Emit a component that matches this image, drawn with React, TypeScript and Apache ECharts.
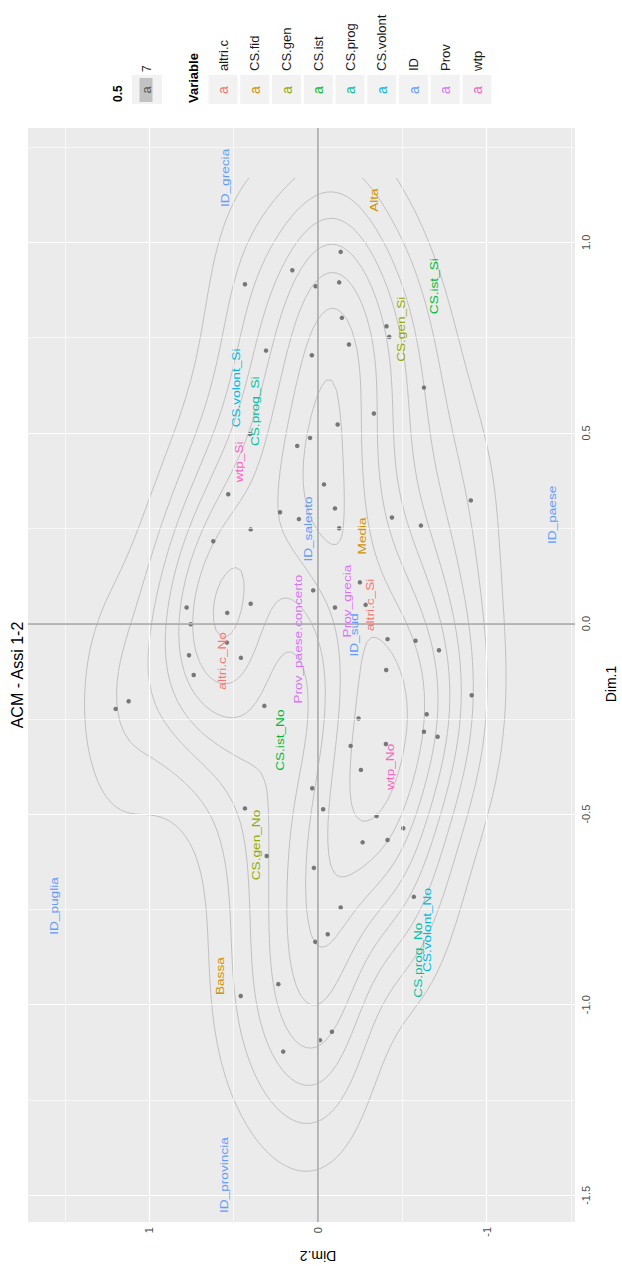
import React, { useEffect, useRef } from "react";
import * as echarts from "echarts";

// ---------- data ----------
const varNames = ["altri.c", "CS.fid", "CS.gen", "CS.ist", "CS.prog", "CS.volont", "ID", "Prov", "wtp"];
const varColors = ["#F8766D", "#D39200", "#93AA00", "#00BA38", "#00C19F", "#00B9E3", "#619CFF", "#DB72FB", "#FF61C3"];

const labelText = [
  "altri.c_Si", "altri.c_No",
  "Alta", "Media", "Bassa",
  "CS.gen_Si", "CS.gen_No",
  "CS.ist_Si", "CS.ist_No",
  "CS.prog_Si", "CS.prog_No",
  "CS.volont_Si", "CS.volont_No",
  "ID_grecia", "ID_salento", "ID_sud", "ID_puglia", "ID_provincia", "ID_paese",
  "Prov_grecia", "Prov_paese.concerto",
  "wtp_Si", "wtp_No",
];
const labelVar = [0, 0, 1, 1, 1, 2, 2, 3, 3, 4, 4, 5, 5, 6, 6, 6, 6, 6, 6, 7, 7, 8, 8];
const labelDim1 = [
  0.049, -0.098,
  1.111, 0.230, -0.925,
  0.772, -0.581,
  0.885, -0.306,
  0.557, -0.883,
  0.618, -0.804,
  1.169, 0.248, -0.030, -0.741, -1.447, 0.285,
  0.059, -0.041,
  0.424, -0.376,
];
const labelDim2 = [
  -0.314, 0.563,
  -0.338, -0.267, 0.575,
  -0.498, 0.362,
  -0.694, 0.219,
  0.368, -0.599,
  0.480, -0.652,
  0.546, 0.053, -0.219, 1.560, 0.552, -1.394,
  -0.178, 0.113,
  0.463, -0.433,
];

const pointDim1 = [
  0.975, 0.927, 0.890, 0.885, 0.895, 0.802, 0.780, 0.752, 0.732, 0.716,
  0.704, 0.619, 0.551, 0.522, 0.487, 0.466, 0.497, 0.365, 0.339, 0.302,
  0.292, 0.274, 0.278, 0.257, 0.247, 0.250, 0.216, 0.108, 0.087, 0.052,
  0.042, 0.049, 0.028, -0.050, -0.041, -0.045, -0.090, -0.070, -0.122, -0.216,
  -0.238, -0.249, -0.284, -0.297, -0.321, -0.316, -0.384, -0.432, -0.487, -0.505,
  -0.537, -0.574, -0.568, -0.641, -0.717, -0.745, -0.815, -0.835, -1.071, -1.093,
  -0.485, -0.610, -0.946, -0.977, -1.123, 0.042, -0.002, -0.083, -0.135, -0.204,
  -0.224, 0.323, -0.188,
];
const pointDim2 = [
  -0.135, 0.152, 0.433, 0.014, -0.126, -0.142, -0.407, -0.423, -0.184, 0.308,
  0.036, -0.629, -0.332, -0.117, 0.047, 0.123, 0.403, -0.036, 0.532, -0.101,
  0.225, 0.113, -0.439, -0.611, 0.399, -0.126, 0.621, -0.249, 0.028, 0.399,
  -0.101, -0.283, 0.538, 0.540, -0.413, -0.579, 0.457, -0.718, -0.405, 0.318,
  -0.645, -0.241, -0.629, -0.710, -0.194, -0.403, -0.255, 0.034, -0.031, -0.348,
  -0.506, -0.265, -0.413, 0.024, -0.569, -0.135, -0.058, 0.016, -0.083, -0.012,
  0.433, 0.304, 0.235, 0.458, 0.206, 0.779, 0.755, 0.765, 0.737, 1.123,
  1.200, -0.907, -0.912,
];

const dim1MajorTicks = [-1.5, -1, -0.5, 0, 0.5, 1];
const dim1MinorTicks = [-1.25, -0.75, -0.25, 0.25, 0.75, 1.25];
const dim2MajorTicks = [-1, 0, 1];
const dim2MinorTicks = [-1.5, -0.5, 0.5, 1.5];

const titleText = "ACM - Assi 1-2";
const dim1Name = "Dim.1";
const dim2Name = "Dim.2";
const sizeLegendTitle = "0.5";
const sizeLegendLabel = "7";
const colourLegendTitle = "Variable";

// ---------- density contours (as stat_density2d) ----------
function quantile7(arr: number[], p: number) {
  const s = [...arr].sort((a, b) => a - b);
  const h = (s.length - 1) * p;
  const lo = Math.floor(h);
  const hi = Math.min(lo + 1, s.length - 1);
  return s[lo] + (h - lo) * (s[hi] - s[lo]);
}
function sdev(arr: number[]) {
  const m = arr.reduce((a, b) => a + b, 0) / arr.length;
  const v = arr.reduce((a, b) => a + (b - m) * (b - m), 0) / (arr.length - 1);
  return Math.sqrt(v);
}
function bandwidthNrd(x: number[]) {
  const h = (quantile7(x, 0.75) - quantile7(x, 0.25)) / 1.34;
  return 4 * 1.06 * Math.min(sdev(x), h) * Math.pow(x.length, -1 / 5);
}
function dnorm(u: number) {
  return Math.exp(-u * u / 2) / Math.sqrt(2 * Math.PI);
}
function kde2d(x: number[], y: number[], n: number, lims: number[]) {
  const hx = bandwidthNrd(x) / 4;
  const hy = bandwidthNrd(y) / 4;
  const gx: number[] = [];
  const gy: number[] = [];
  for (let i = 0; i < n; i++) {
    gx.push(lims[0] + ((lims[1] - lims[0]) * i) / (n - 1));
    gy.push(lims[2] + ((lims[3] - lims[2]) * i) / (n - 1));
  }
  const N = x.length;
  const ax = gx.map((g) => x.map((v) => dnorm((g - v) / hx)));
  const ay = gy.map((g) => y.map((v) => dnorm((g - v) / hy)));
  const z: number[][] = [];
  for (let i = 0; i < n; i++) {
    const row: number[] = [];
    for (let j = 0; j < n; j++) {
      let s = 0;
      for (let k = 0; k < N; k++) s += ax[i][k] * ay[j][k];
      row.push(s / (N * hx * hy));
    }
    z.push(row);
  }
  return { gx, gy, z };
}
function pretty(lo: number, hi: number, ndiv: number) {
  const h = 1.5;
  const h5 = 0.5 + 1.5 * h;
  const cell = (hi - lo) / ndiv;
  const U = Math.pow(10, Math.floor(Math.log10(cell)));
  let unit = U;
  let ns = 2 * U;
  if (ns - cell < h * (cell - unit)) {
    unit = ns;
    ns = 5 * U;
    if (ns - cell < h5 * (cell - unit)) {
      unit = ns;
      ns = 10 * U;
      if (ns - cell < h * (cell - unit)) unit = ns;
    }
  }
  const a = Math.floor(lo / unit + 1e-7);
  const b = Math.ceil(hi / unit - 1e-7);
  const out: number[] = [];
  for (let k = a; k <= b; k++) out.push(k * unit);
  return out;
}
function contourLines(gx: number[], gy: number[], z: number[][], level: number) {
  const n = gx.length;
  const m = gy.length;
  const pts: Record<string, number[]> = {};
  const edgePoint = (key: string, x1: number, y1: number, z1: number, x2: number, y2: number, z2: number) => {
    if (!pts[key]) {
      const t = (level - z1) / (z2 - z1);
      pts[key] = [x1 + t * (x2 - x1), y1 + t * (y2 - y1)];
    }
    return key;
  };
  const segs: string[][] = [];
  for (let i = 0; i < n - 1; i++) {
    for (let j = 0; j < m - 1; j++) {
      const a = z[i][j], b = z[i + 1][j], c = z[i + 1][j + 1], d = z[i][j + 1];
      const A = a >= level, B = b >= level, C = c >= level, D = d >= level;
      const e: (string | null)[] = [null, null, null, null];
      if (A !== B) e[0] = edgePoint(`h${i}_${j}`, gx[i], gy[j], a, gx[i + 1], gy[j], b);
      if (B !== C) e[1] = edgePoint(`v${i + 1}_${j}`, gx[i + 1], gy[j], b, gx[i + 1], gy[j + 1], c);
      if (D !== C) e[2] = edgePoint(`h${i}_${j + 1}`, gx[i], gy[j + 1], d, gx[i + 1], gy[j + 1], c);
      if (A !== D) e[3] = edgePoint(`v${i}_${j}`, gx[i], gy[j], a, gx[i], gy[j + 1], d);
      const crossed = e.filter((k) => k !== null) as string[];
      if (crossed.length === 2) segs.push([crossed[0], crossed[1]]);
      else if (crossed.length === 4) {
        const center = (a + b + c + d) / 4 >= level;
        if (center === A) {
          segs.push([e[0] as string, e[1] as string]);
          segs.push([e[2] as string, e[3] as string]);
        } else {
          segs.push([e[0] as string, e[3] as string]);
          segs.push([e[1] as string, e[2] as string]);
        }
      }
    }
  }
  const byKey: Record<string, number[]> = {};
  segs.forEach((s, idx) => {
    (byKey[s[0]] = byKey[s[0]] || []).push(idx);
    (byKey[s[1]] = byKey[s[1]] || []).push(idx);
  });
  const used = new Array(segs.length).fill(false);
  const lines: number[][][] = [];
  const nextFrom = (key: string) => {
    const list = byKey[key] || [];
    for (const idx of list) if (!used[idx]) return idx;
    return -1;
  };
  for (let s = 0; s < segs.length; s++) {
    if (used[s]) continue;
    used[s] = true;
    const chain = [segs[s][0], segs[s][1]];
    let k = nextFrom(chain[chain.length - 1]);
    while (k >= 0) {
      used[k] = true;
      const last = chain[chain.length - 1];
      chain.push(segs[k][0] === last ? segs[k][1] : segs[k][0]);
      k = nextFrom(chain[chain.length - 1]);
    }
    k = nextFrom(chain[0]);
    while (k >= 0) {
      used[k] = true;
      const first = chain[0];
      chain.unshift(segs[k][0] === first ? segs[k][1] : segs[k][0]);
      k = nextFrom(chain[0]);
    }
    lines.push(chain.map((key) => pts[key]));
  }
  return lines;
}
function densityContours() {
  const all1 = [...pointDim1, ...labelDim1];
  const all2 = [...pointDim2, ...labelDim2];
  const lims = [Math.min(...all1), Math.max(...all1), Math.min(...all2), Math.max(...all2)];
  const { gx, gy, z } = kde2d(pointDim1, pointDim2, 100, lims);
  let zmin = Infinity, zmax = -Infinity;
  z.forEach((r) => r.forEach((v) => { if (v < zmin) zmin = v; if (v > zmax) zmax = v; }));
  const breaks = pretty(zmin, zmax, 10);
  const out: number[][][] = [];
  breaks.forEach((lv) => {
    if (lv <= zmin || lv >= zmax) return;
    contourLines(gx, gy, z, lv).forEach((l) => out.push(l));
  });
  return out;
}

// ---------- component ----------
export default function App() {
  const ref = useRef<HTMLDivElement>(null);
  useEffect(() => {
    document.body.style.margin = "0";
    if (!ref.current) return;
    const chart = echarts.init(ref.current, undefined, { renderer: "svg" });
    const FONT = "'Liberation Sans', Arial, sans-serif";

    const contours = densityContours();

    const gridLineSeries = (data: any[], color: string, width: number, z: number) => ({
      type: "line",
      data: [],
      silent: true,
      z,
      markLine: {
        silent: true,
        symbol: ["none", "none"],
        label: { show: false },
        emphasis: { disabled: true },
        lineStyle: { color, width, type: "solid" },
        data,
        animation: false,
      },
    });

    const graphics: any[] = [];
    const rotText = (text: string, x: number, y: number, opts: any) => ({
      type: "text",
      x,
      y,
      rotation: opts.rotation ?? Math.PI / 2,
      z: 100,
      style: {
        text,
        fill: opts.fill ?? "#000000",
        font: `${opts.weight ?? "normal"} ${opts.size}px ${FONT}`,
        textAlign: opts.align ?? "center",
        align: opts.align ?? "center",
        textVerticalAlign: "middle",
        verticalAlign: "middle",
      },
    });
    // title & axis names
    graphics.push(rotText(titleText, 17, 675, { size: 16 }));
    graphics.push(rotText(dim1Name, 611, 684, { size: 14 }));
    graphics.push(rotText(dim2Name, 318, 1256, { size: 14, rotation: Math.PI }));
    // size legend
    graphics.push(rotText(sizeLegendTitle, 118, 102, { size: 12, weight: "bold", align: "left" }));
    graphics.push({ type: "rect", z: 99, shape: { x: 132, y: 75, width: 30, height: 29 }, style: { fill: "#F2F2F2" } });
    graphics.push({ type: "rect", z: 99, shape: { x: 139.5, y: 78, width: 13, height: 24 }, style: { fill: "#C2C2C2" } });
    graphics.push(rotText("a", 146, 90, { size: 13, fill: "#555555" }));
    graphics.push(rotText(sizeLegendLabel, 147, 72, { size: 12, align: "left", fill: "#1A1A1A" }));
    // colour legend
    graphics.push(rotText(colourLegendTitle, 193, 103, { size: 13, weight: "bold", align: "left" }));
    varNames.forEach((nm, i) => {
      const cx = 223 + 31.75 * i;
      graphics.push({ type: "rect", z: 99, shape: { x: cx - 14.5, y: 75, width: 29, height: 29 }, style: { fill: "#F2F2F2" } });
      graphics.push(rotText("a", cx, 90, { size: 14, fill: varColors[i] }));
      graphics.push(rotText(nm, cx, 71, { size: 13, align: "left", fill: "#1A1A1A" }));
    });

    const option: any = {
      animation: false,
      grid: {
        left: 28,
        right: 47,
        top: 128,
        bottom: 44,
        show: true,
        backgroundColor: "#EBEBEB",
        borderWidth: 0,
      },
      xAxis: {
        type: "value",
        min: -1.525,
        max: 1.72,
        inverse: true,
        position: "bottom",
        axisLine: { show: false },
        splitLine: { show: false },
        axisTick: { show: true, customValues: dim2MajorTicks, length: 4, lineStyle: { color: "#333333", width: 1 } },
        axisLabel: {
          customValues: dim2MajorTicks,
          rotate: 90,
          margin: 5,
          color: "#4D4D4D",
          fontSize: 11,
          fontFamily: FONT,
          formatter: (v: number) => String(Math.round(v)),
        },
      },
      yAxis: {
        type: "value",
        min: -1.57,
        max: 1.3,
        position: "right",
        axisLine: { show: false },
        splitLine: { show: false },
        axisTick: { show: true, customValues: dim1MajorTicks, length: 4, lineStyle: { color: "#333333", width: 1 } },
        axisLabel: {
          customValues: dim1MajorTicks,
          rotate: 90,
          margin: 5,
          color: "#4D4D4D",
          fontSize: 11,
          fontFamily: FONT,
          formatter: (v: number) => v.toFixed(1),
        },
      },
      graphic: graphics,
      series: [
        gridLineSeries(
          [...dim2MinorTicks.map((v) => ({ xAxis: v })), ...dim1MinorTicks.map((v) => ({ yAxis: v }))],
          "#FFFFFF", 0.6, 1
        ),
        gridLineSeries(
          [...dim2MajorTicks.map((v) => ({ xAxis: v })), ...dim1MajorTicks.map((v) => ({ yAxis: v }))],
          "#FFFFFF", 1.2, 1
        ),
        gridLineSeries([{ xAxis: 0 }, { yAxis: 0 }], "#A0A0A0", 1.5, 2),
        {
          type: "lines",
          coordinateSystem: "cartesian2d",
          polyline: true,
          silent: true,
          z: 3,
          lineStyle: { color: "#BBBBBB", width: 0.9, opacity: 1 },
          data: contours.map((l) => ({ coords: l.map((p) => [p[1], p[0]]) })),
        },
        {
          type: "scatter",
          z: 4,
          silent: true,
          symbolSize: 4.5,
          itemStyle: { color: "#6A6A6A", opacity: 0.9 },
          data: pointDim2.map((d2, i) => [d2, pointDim1[i]]),
        },
        {
          type: "custom",
          z: 5,
          silent: true,
          encode: { x: 0, y: 1 },
          data: labelDim2.map((d2, i) => [d2, labelDim1[i], i]),
          renderItem: (params: any, api: any) => {
            const i = api.value(2);
            const p = api.coord([api.value(0), api.value(1)]);
            return {
              type: "text",
              x: p[0],
              y: p[1],
              rotation: Math.PI / 2,
              scaleX: 1.3,
              style: {
                text: labelText[i],
                fill: varColors[labelVar[i]],
                font: `10.5px ${FONT}`,
                textAlign: "center",
                align: "center",
                textVerticalAlign: "middle",
                verticalAlign: "middle",
              },
            };
          },
        },
      ],
    };
    chart.setOption(option);
    return () => chart.dispose();
  }, []);
  return <div ref={ref} style={{ width: 622, height: 1266 }} />;
}
